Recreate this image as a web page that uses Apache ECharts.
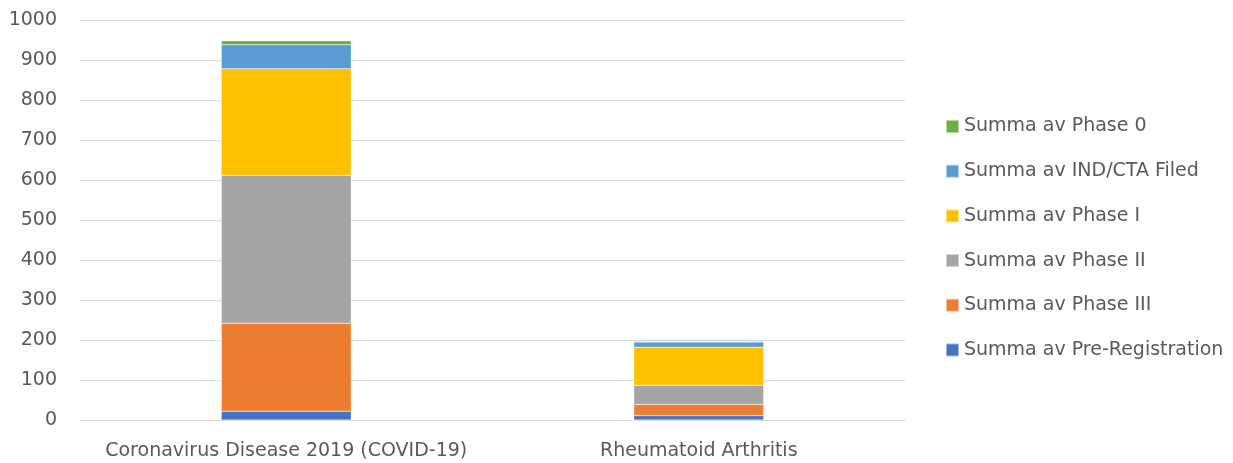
<!DOCTYPE html>
<html><head><meta charset="utf-8">
<script src="https://cdn.jsdelivr.net/npm/echarts@6/dist/echarts.min.js"></script>
<style>html,body{margin:0;padding:0;background:#fff}#c{width:1233px;height:463px}</style>
</head><body><div id="c"></div>
<script>
const categories = ['Coronavirus Disease 2019 (COVID-19)', 'Rheumatoid Arthritis'];
const preRegistration = [22, 11];
const phaseIII = [220, 28];
const phaseII = [370, 48];
const phaseI = [266, 95];
const indCtaFiled = [60, 13];
const phase0 = [10, 2];
const yTicks = [0, 100, 200, 300, 400, 500, 600, 700, 800, 900, 1000];

const seriesDefs = [
  ['Summa av Pre-Registration', preRegistration, '#4472C4'],
  ['Summa av Phase III', phaseIII, '#ED7D31'],
  ['Summa av Phase II', phaseII, '#A5A5A5'],
  ['Summa av Phase I', phaseI, '#FFC000'],
  ['Summa av IND/CTA Filed', indCtaFiled, '#5B9BD5'],
  ['Summa av Phase 0', phase0, '#70AD47']
];
const font = '"DejaVu Sans", sans-serif';
const chart = echarts.init(document.getElementById('c'));
chart.setOption({
  animation: false,
  grid: {left: 80, right: 328, top: 20, bottom: 43, containLabel: false},
  legend: {
    orient: 'vertical', left: 940, top: 112,
    data: seriesDefs.map(s => s[0]).reverse(),
    itemWidth: 13, itemHeight: 13, itemGap: 25.7,
    icon: 'rect',
    textStyle: {color: '#595959', fontSize: 19, fontFamily: font}
  },
  xAxis: {
    type: 'category', data: categories,
    axisLine: {lineStyle: {color: '#d9d9d9', width: 1}},
    axisTick: {show: false},
    splitLine: {show: false},
    axisLabel: {color: '#595959', fontSize: 19, fontFamily: font, margin: 22, interval: 0, hideOverlap: false}
  },
  yAxis: {
    type: 'value', min: yTicks[0], max: yTicks[yTicks.length - 1], interval: 100,
    axisLine: {show: false}, axisTick: {show: false},
    splitLine: {lineStyle: {color: '#d9d9d9', width: 1}},
    axisLabel: {color: '#595959', fontSize: 19, fontFamily: font, margin: 23, formatter: v => String(v)}
  },
  series: seriesDefs.map(s => ({
    name: s[0], type: 'bar', stack: 'total', data: s[1],
    barWidth: '31.5%',
    itemStyle: {color: s[2], borderColor: 'rgba(255,255,255,0.5)', borderWidth: 0.5}
  }))
});
</script></body></html>
